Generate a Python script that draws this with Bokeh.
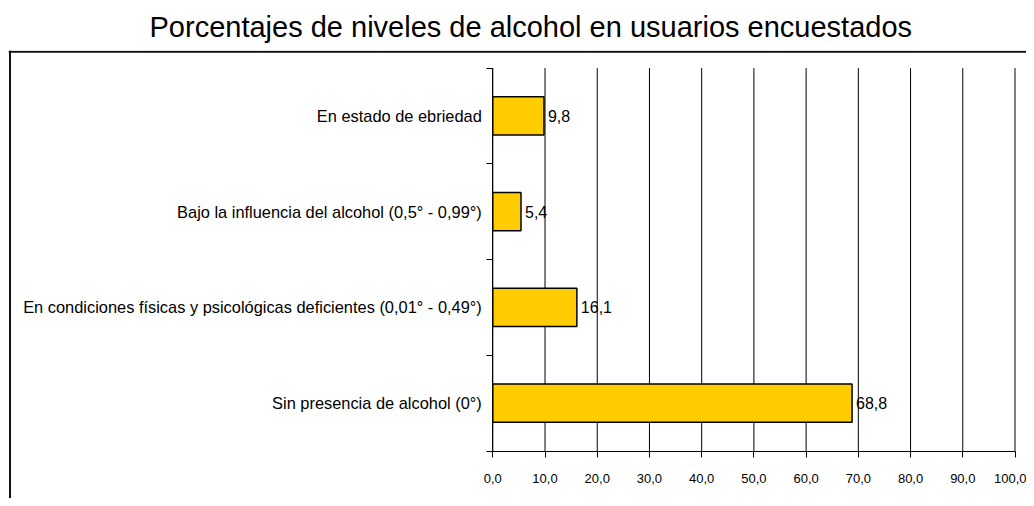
from bokeh.plotting import figure
from bokeh.models import FixedTicker, Range1d, Span, ColumnDataSource
from bokeh.core.properties import value
from bokeh.embed import file_html
from bokeh.resources import INLINE

# ---- data ----
categories = [
    "Sin presencia de alcohol (0°)",
    "En condiciones físicas y psicológicas deficientes (0,01° - 0,49°)",
    "Bajo la influencia del alcohol (0,5° - 0,99°)",
    "En estado de ebriedad",
]
percentages = [68.8, 16.1, 5.4, 9.8]
tick_values = [0, 10, 20, 30, 40, 50, 60, 70, 80, 90, 100]
tick_labels = ["0,0", "10,0", "20,0", "30,0", "40,0", "50,0", "60,0", "70,0", "80,0", "90,0", "100,0"]
title_text = "Porcentajes de niveles de alcohol en usuarios encuestados"

FONT = "Liberation Sans"

# ---- layout constants (figure pixels) ----
W, H = 1026, 498
FRAME_L, FRAME_R, FRAME_T, FRAME_B = 8, W, 50, H
X_AT_MIN, X_AT_MAX = 492.3, 1014.5      # where 0 and 100 fall
Y_AT_BOTTOM, Y_AT_TOP = 450.5, 67.6     # where the category block starts/ends
BORDER_X, BORDER_Y = 9.5, 51.3          # chart-area border lines

n = len(categories)
centers = [i + 0.5 for i in range(n)]
bounds = list(range(n + 1))
value_labels = [("%.1f" % v).replace(".", ",") for v in percentages]

xmin, xmax = tick_values[0], tick_values[-1]
ppx = (X_AT_MAX - X_AT_MIN) / (xmax - xmin)
ppy = (Y_AT_BOTTOM - Y_AT_TOP) / n
x_start = xmin - (X_AT_MIN - FRAME_L) / ppx
x_end = xmax + (FRAME_R - X_AT_MAX) / ppx
y_start = 0 - (FRAME_B - Y_AT_BOTTOM) / ppy
y_end = n + (Y_AT_TOP - FRAME_T) / ppy

src = ColumnDataSource(dict(y=centers, v=percentages, lab=value_labels))
grid_src = ColumnDataSource(dict(x=tick_values,
                                 y0=[bounds[0]] * len(tick_values),
                                 y1=[bounds[-1]] * len(tick_values)))

p = figure(width=W, height=H, output_backend="svg", toolbar_location=None,
           x_range=Range1d(x_start, x_end), y_range=Range1d(y_start, y_end),
           min_border_left=FRAME_L, min_border_right=W - FRAME_R,
           min_border_top=FRAME_T, min_border_bottom=H - FRAME_B,
           background_fill_color="white", border_fill_color="white")
p.outline_line_color = None
p.xgrid.grid_line_color = None
p.ygrid.grid_line_color = None

# title
p.title.text = title_text
p.title.text_font = FONT
p.title.text_font_size = "29px"
p.title.text_font_style = "normal"
p.title.text_color = "black"
p.title.align = "left"
p.title.offset = 141
p.title.standoff = 16

# chart-area border (left and top edges)
p.add_layout(Span(location=x_start + (BORDER_X - FRAME_L) / ppx, dimension="height",
                  line_color="#111111", line_width=2))
p.add_layout(Span(location=y_end - (BORDER_Y - FRAME_T) / ppy, dimension="width",
                  line_color="#111111", line_width=2))

# vertical grid lines
p.segment(x0="x", y0="y0", x1="x", y1="y1", source=grid_src,
          line_color="black", line_width=1)

# bars
p.hbar(y="y", right="v", left=0, height=0.4, source=src,
       fill_color="#FFCC00", line_color="black", line_width=1.5)
p.text(x="v", y="y", text="lab", source=src, x_offset=4,
       text_align="left", text_baseline="middle",
       text_font=value(FONT), text_font_size="16px", text_color="black")

# x axis
xa = p.xaxis[0]
xa.fixed_location = 0
xa.bounds = (xmin, xmax)
xa.ticker = FixedTicker(ticks=tick_values, minor_ticks=[])
xa.major_label_overrides = {t: l for t, l in zip(tick_values, tick_labels)}
xa.axis_line_color = "black"
xa.major_tick_line_color = "black"
xa.major_tick_out = 6
xa.major_tick_in = 0
xa.minor_tick_line_color = None
xa.major_label_text_font = FONT
xa.major_label_text_font_size = "13px"
xa.major_label_text_color = "black"
xa.major_label_standoff = 17

# y axis (labels at category centres, ticks at boundaries)
ya = p.yaxis[0]
ya.fixed_location = 0
ya.bounds = (bounds[0], bounds[-1])
ya.ticker = FixedTicker(ticks=centers, minor_ticks=bounds)
ya.major_label_overrides = {c: name for c, name in zip(centers, categories)}
ya.axis_line_color = "black"
ya.major_tick_out = 0
ya.major_tick_in = 0
ya.major_tick_line_color = None
ya.minor_tick_out = 6
ya.minor_tick_in = 0
ya.minor_tick_line_color = "black"
ya.major_label_text_font = FONT
ya.major_label_text_font_size = "16.4px"
ya.major_label_text_color = "black"
ya.major_label_standoff = 5

open("out.html", "w").write(file_html(p, INLINE))
